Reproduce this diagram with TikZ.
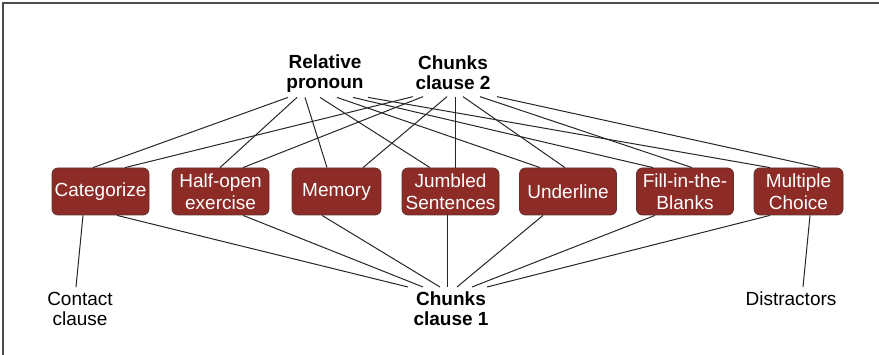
\documentclass[tikz,border=0pt]{standalone}
\usepackage{fontspec}
\setmainfont{Liberation Sans}
\usetikzlibrary{positioning}
\definecolor{taskred}{RGB}{141,43,38}
\definecolor{taskedge}{RGB}{95,50,45}
\tikzstyle{exercise} = [draw=taskedge, fill=taskred, text=white, rounded corners=6pt, line width=0.8pt, minimum width=97pt, minimum height=47pt, inner sep=1pt, align=center, font=\fontsize{19}{21.5}\selectfont]
\tikzstyle{term} = [inner sep=0pt, align=center, anchor=north, font=\fontsize{19}{20}\selectfont]
\tikzstyle{keyterm} = [term, font=\fontsize{19}{20}\selectfont\bfseries]
\tikzstyle{link} = [line width=1pt, black!85]

\begin{document}
\begin{tikzpicture}[x=1pt, y=-1pt, node distance=116.5pt]
\useasboundingbox (0,0) rectangle (879,355);
\draw [line width=1.3pt, black!70] (3,355) -- (3,3) -- (879,3);

% grammar topics
\node [keyterm] (relpron) at (325,54.3) {Relative\\pronoun};
\node [keyterm] (chunks2) at (453,55.8) {Chunks\\clause 2};

% exercise types
\node [exercise] (categ) at (100.5,191.5) {Categorize};
\node [exercise, right of=categ, node distance=120pt] (halfopen) {Half-open\\exercise};
\node [exercise, right of=halfopen, node distance=116pt, minimum width=89pt] (memory) {Memory};
\node [exercise, right of=memory, node distance=114pt] (jumbled) {Jumbled\\Sentences};
\node [exercise, right of=jumbled, node distance=117.5pt] (underline) {Underline};
\node [exercise, right of=underline, node distance=117pt] (fillin) {Fill-in-the-\\Blanks};
\node [exercise, right of=fillin, node distance=113.5pt, minimum width=89pt] (multiple) {Multiple\\Choice};

\node [keyterm] (chunks1) at (451,292) {Chunks\\clause 1};
\node [term] (contact) at (80,292) {Contact\\clause};
\node [term] (distract) at (791,292) {Distractors};

% upper links
\foreach \ex/\s/\t in {categ/-37/-7.5, halfopen/-28/-0.5, memory/-20/-9.5, jumbled/-5/-20.5, underline/12/-28, fillin/28/-32, multiple/43/-28.5}
  \draw [link] ([xshift=\s pt, yshift=-5pt]relpron.south) -- ([xshift=\t pt]\ex.north);
\foreach \ex/\s/\t in {categ/-40/24.5, halfopen/-30/22.5, memory/-6/26.5, jumbled/2/4.5, underline/10/-3, fillin/27/7, multiple/44/21.5}
  \draw [link] ([xshift=\s pt, yshift=-6.5pt]chunks2.south) -- ([xshift=\t pt]\ex.north);

% lower links
\foreach \ex/\s/\t in {categ/16.5/-43, halfopen/22.5/-28, memory/-14.5/-11, jumbled/-3.5/-4, underline/-25/6, fillin/-30/21, multiple/-28.5/36}
  \draw [link] ([xshift=\s pt]\ex.south) -- ([xshift=\t pt, yshift=5pt]chunks1.north);
\draw [link] ([xshift=-17.5pt]categ.south) -- ([xshift=-4pt, yshift=5pt]contact.north);
\draw [link] ([xshift=11.5pt]multiple.south) -- ([xshift=12pt, yshift=5pt]distract.north);
\end{tikzpicture}
\end{document}
